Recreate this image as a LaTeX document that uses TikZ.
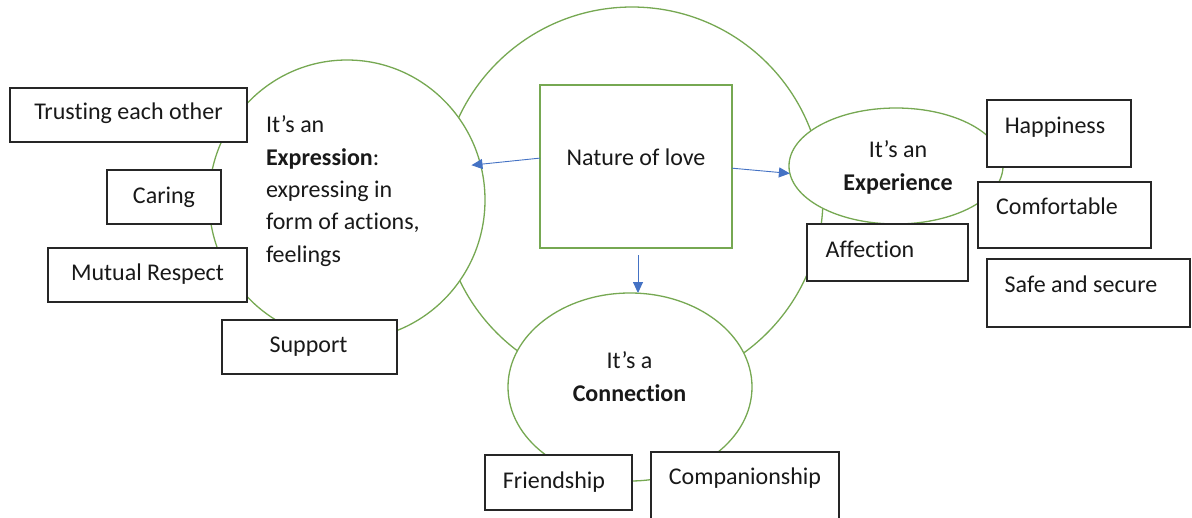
\documentclass[tikz,border=0pt]{standalone}
\usepackage{fontspec}
\setmainfont[Ligatures=NoCommon]{Carlito}
\usetikzlibrary{arrows.meta,shapes.geometric}
\definecolor{lgreen}{RGB}{118,168,82}
\definecolor{lblue}{RGB}{68,114,196}
\begin{document}
\begin{tikzpicture}[x=1pt,y=-1pt,
  every node/.style={font=\fontsize{24}{32.3}\selectfont, inner sep=0pt, outer sep=0pt, text=black!90},
  oval/.style={ellipse, draw=lgreen, line width=1.3pt, fill=white},
  natbox/.style={rectangle, draw=lgreen, line width=1.3pt, fill=white},
  rbox/.style={rectangle, draw=black!85, line width=1.3pt, fill=white, anchor=north west},
  lbl/.style={anchor=base},
  arr/.style={draw=lblue, line width=0.9pt, -{Triangle[length=11pt,width=10pt]}}]
\useasboundingbox (0,0) rectangle (1192,517);
% ovals
\node[oval, minimum width=382, minimum height=382] (big) at (632,198) {};
\node[oval, minimum width=276, minimum height=280] (expr) at (347,200) {};
\node[oval, minimum width=214, minimum height=116] (exp) at (896,166) {};
\node[oval, minimum width=244, minimum height=188] (conn) at (630,387) {};
% centre box
\node[natbox, minimum width=192, minimum height=163] (nat) at (636,166.5) {};
\node[lbl] (natt) at (636,165) {Nature of love};
% oval texts (base anchor = last line)
\node[anchor=base west, align=left] (exprt) at (266,262) {It’s an\\\textbf{Expression}:\\expressing in\\form of actions,\\feelings};
\node[anchor=base, align=center] (expt) at (898,190) {It’s an\\\textbf{Experience}};
\node[anchor=base, align=center] (connt) at (629.5,401) {It’s a\\\textbf{Connection}};
% arrows
\draw[arr, shorten >=-9pt] (nat.175.5) -- (expr.15);
\draw[arr] (nat.-1) -- (exp.184);
\coordinate (dn) at ([xshift=2pt,yshift=-7pt]nat.south);
\draw[arr] (dn) -- (dn |- conn.north);
% boxes left
\node[rbox, minimum width=237, minimum height=54] (trust) at (10,88) {};
\node[lbl] (trustt) at (128.5,119) {Trusting each other};
\node[rbox, minimum width=114, minimum height=54] (caring) at (107,170) {};
\node[lbl] (caringt) at (164,203) {Caring};
\node[rbox, minimum width=199, minimum height=54] (mutual) at (48,248) {};
\node[lbl] (mutualt) at (147.5,280) {Mutual Respect};
\node[rbox, minimum width=175, minimum height=54] (support) at (222,320) {};
\node[lbl] (supportt) at (308.5,352) {Support};
% boxes right
\node[rbox, minimum width=144, minimum height=67] (happy) at (987,100) {};
\node[lbl] (happyt) at (1055,133) {Happiness};
\node[rbox, minimum width=173, minimum height=66] (comf) at (978,182) {};
\node[lbl] (comft) at (1057,214) {Comfortable};
\node[rbox, minimum width=161, minimum height=57] (aff) at (807,224) {};
\node[lbl] (afft) at (870,257) {Affection};
\node[rbox, minimum width=203, minimum height=68] (safe) at (987,259) {};
\node[lbl] (safet) at (1081,292) {Safe and secure};
% boxes bottom
\node[rbox, minimum width=147, minimum height=55] (friend) at (485,455) {};
\node[lbl] (friendt) at (554,488) {Friendship};
\node[rbox, minimum width=188, minimum height=75] (comp) at (651,452) {};
\node[lbl] (compt) at (745,484) {Companionship};
\end{tikzpicture}
\end{document}
